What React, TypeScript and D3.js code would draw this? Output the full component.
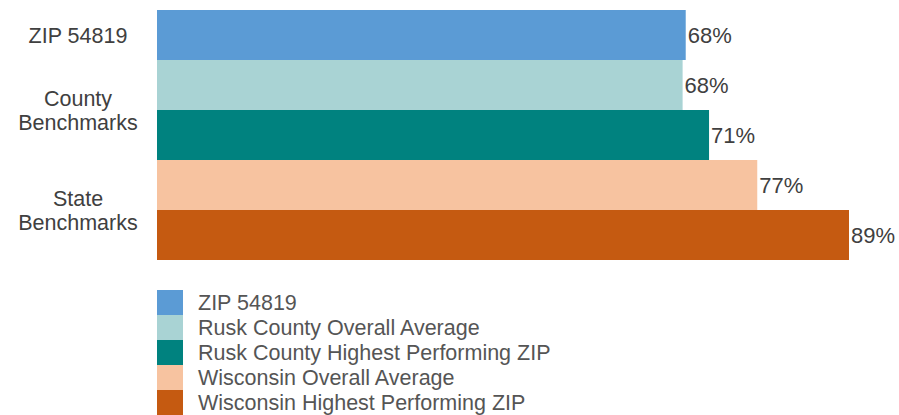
import React from "react";
import * as d3 from "d3";

const series = [
  "ZIP 54819",
  "Rusk County Overall Average",
  "Rusk County Highest Performing ZIP",
  "Wisconsin Overall Average",
  "Wisconsin Highest Performing ZIP",
];
const values = [68.0, 67.6, 71.0, 77.2, 89.0];
const valueLabels = ["68%", "68%", "71%", "77%", "89%"];
const colors = ["#5B9BD5", "#A9D3D4", "#00827F", "#F7C3A0", "#C55A11"];
const groupLabels = [
  { lines: ["ZIP 54819"], from: 0, to: 0 },
  { lines: ["County", "Benchmarks"], from: 1, to: 2 },
  { lines: ["State", "Benchmarks"], from: 3, to: 4 },
];

const W = 899;
const H = 415;
const FONT = "'Liberation Sans', Arial, sans-serif";
const TEXT = "#404040";

export default function App() {
  const x = d3.scaleLinear().domain([0, 89]).range([157, 849]);
  const y = d3.scaleBand<string>().domain(series).range([10, 260]).padding(0);
  const bw = y.bandwidth();
  const legendTop = 290;
  const rowH = 25;

  return (
    <svg width={W} height={H} style={{ position: "absolute", left: 0, top: 0, background: "#fff" }} fontFamily={FONT}>
      <rect x={0} y={0} width={W} height={H} fill="#fff" />
      {series.map((s, i) => (
        <g key={s}>
          <rect x={x(0)} y={y(s)!} width={x(values[i]) - x(0)} height={bw} fill={colors[i]} />
          <text x={x(values[i]) + 2} y={y(s)! + bw / 2} dy="0.35em" fontSize={22} fill={TEXT}>
            {valueLabels[i]}
          </text>
        </g>
      ))}
      {groupLabels.map((g, gi) => {
        const top = y(series[g.from])!;
        const bot = y(series[g.to])! + bw;
        const cy = (top + bot) / 2;
        const lh = 24;
        const n = g.lines.length;
        return (
          <text key={gi} textAnchor="middle" fontSize={21.5} fill={TEXT}>
            {g.lines.map((l, li) => (
              <tspan key={li} x={78} y={cy + (li - (n - 1) / 2) * lh} dy="0.35em">
                {l}
              </tspan>
            ))}
          </text>
        );
      })}
      {series.map((s, i) => (
        <g key={"lg" + s}>
          <rect x={157} y={legendTop + i * rowH} width={26} height={rowH} fill={colors[i]} />
          <text x={198} y={legendTop + i * rowH + rowH / 2} dy="0.35em" fontSize={21.5} fill="#555">
            {s}
          </text>
        </g>
      ))}
    </svg>
  );
}
